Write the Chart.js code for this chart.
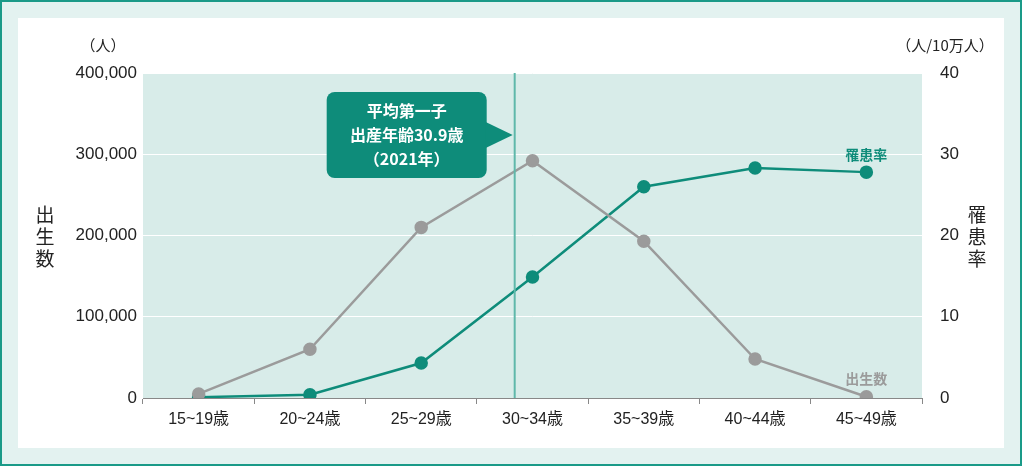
<!DOCTYPE html>
<html><head><meta charset="utf-8">
<script src="https://cdn.jsdelivr.net/npm/chart.js@4"></script>
<style>
html,body{margin:0;padding:0;}
body{width:1022px;height:466px;background:#e3f2f0;box-sizing:border-box;border:2px solid #1a9a88;position:relative;overflow:hidden;}
#wrap{position:absolute;left:16px;top:16px;width:986px;height:430px;background:#fff;}
</style></head><body>
<div id="wrap"><canvas id="c" width="986" height="430"></canvas></div>
<script>
const categories=['15~19歳','20~24歳','25~29歳','30~34歳','35~39歳','40~44歳','45~49歳'];
const births=[5000,60000,210000,292000,193000,48000,1500];
const rate=[0.1,0.4,4.3,14.9,26.0,28.3,27.8];
const leftTicks=[0,100000,200000,300000,400000];
const rightTicks=[0,10,20,30,40];
const meanAgeIndex=2.84;
const callout=['平均第一子','出産年齢30.9歳','（2021年）'];
const F='"Liberation Sans","Noto Sans CJK JP",sans-serif';
const FJ='"Noto Sans CJK JP","Noto Sans",sans-serif';
const TEAL='#0e8c7a',GRAY='#9b9b9b';
const deco={id:'deco',
 beforeDraw(ch){const a=ch.chartArea,c=ch.ctx;c.save();c.fillStyle='#d8ece9';c.fillRect(a.left,a.top,a.right-a.left,a.bottom-a.top);c.restore();},
 afterDraw(ch){const a=ch.chartArea,c=ch.ctx,x=ch.scales.x;c.save();
  const lx=x.getPixelForValue(meanAgeIndex);
  c.strokeStyle='#5fb8aa';c.lineWidth=2;c.beginPath();c.moveTo(lx,a.top);c.lineTo(lx,a.bottom);c.stroke();
  const bx=lx-188,by=74,bw=160,bh=86;
  c.fillStyle=TEAL;c.beginPath();c.roundRect(bx,by,bw,bh,8);c.fill();
  c.beginPath();c.moveTo(bx+bw-1,by+bh/2-13);c.lineTo(lx-2,by+bh/2);c.lineTo(bx+bw-1,by+bh/2+13);c.fill();
  c.fillStyle='#fff';c.font='bold 16px '+FJ;c.textAlign='center';c.textBaseline='middle';
  callout.forEach((t,i)=>c.fillText(t,bx+bw/2,by+19+i*24));
  c.fillStyle='#222';c.font='15px '+FJ;
  c.fillText('（人）',85,27);c.fillText('（人/10万人）',927,27);
  c.font='19px '+FJ;
  ['出','生','数'].forEach((t,i)=>c.fillText(t,27,197+i*22));
  ['罹','患','率'].forEach((t,i)=>c.fillText(t,959,197+i*22));
  c.font='bold 14px '+FJ;c.fillStyle=TEAL;c.fillText('罹患率',x.getPixelForValue(6),137);
  c.fillStyle=GRAY;c.fillText('出生数',x.getPixelForValue(6),361);
  c.restore();}};
new Chart(document.getElementById('c'),{type:'line',
 data:{labels:categories,datasets:[
  {data:births,yAxisID:'y',borderColor:GRAY,backgroundColor:GRAY,borderWidth:2.5,pointRadius:5.5,pointHoverRadius:5.5},
  {data:rate,yAxisID:'y1',borderColor:TEAL,backgroundColor:TEAL,borderWidth:2.5,pointRadius:5.5,pointHoverRadius:5.5}]},
 options:{responsive:false,animation:false,events:[],
  layout:{padding:{top:55,left:0,right:0,bottom:0}},
  plugins:{legend:{display:false},tooltip:{enabled:false}},
  scales:{
   x:{offset:true,grid:{offset:true,drawOnChartArea:false,tickLength:6,color:'#888'},border:{color:'#888'},
      ticks:{color:'#222',font:{family:F,size:16},padding:6},afterFit(s){s.height=50;}},
   y:{position:'left',min:0,max:400000,afterBuildTicks(s){s.ticks=leftTicks.map(v=>({value:v}));},
      grid:{color:'#fff',drawTicks:false},border:{display:false},
      ticks:{color:'#222',font:{family:F,size:17},padding:6,callback:v=>v.toLocaleString('en-US')},afterFit(s){s.width=125;}},
   y1:{position:'right',min:0,max:40,afterBuildTicks(s){s.ticks=rightTicks.map(v=>({value:v}));},
      grid:{display:false},border:{display:false},
      ticks:{color:'#222',font:{family:F,size:17},padding:10},afterFit(s){s.width=82;}}}},
 plugins:[deco]});
</script></body></html>
